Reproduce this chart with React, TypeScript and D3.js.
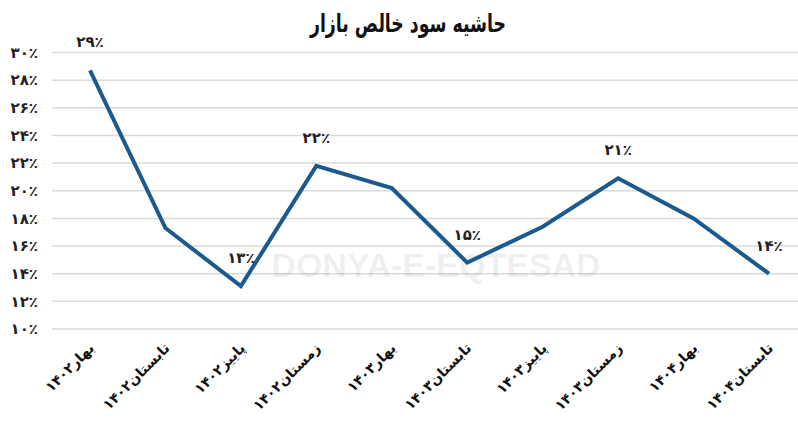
import React from "react";
import * as d3 from "d3";

const categories = [
  "بهار۱۴۰۲",
  "تابستان۱۴۰۲",
  "پاییز۱۴۰۲",
  "زمستان۱۴۰۲",
  "بهار۱۴۰۳",
  "تابستان۱۴۰۳",
  "پاییز۱۴۰۳",
  "زمستان۱۴۰۳",
  "بهار۱۴۰۴",
  "تابستان۱۴۰۴",
];
const values = [28.7, 17.3, 13.1, 21.8, 20.2, 14.8, 17.4, 20.9, 18.0, 14.0];
const valueLabels = ["۲۹٪", "", "۱۳٪", "۲۲٪", "", "۱۵٪", "", "۲۱٪", "", "۱۴٪"];
const yTicks = [10, 12, 14, 16, 18, 20, 22, 24, 26, 28, 30];
const title = "حاشیه سود خالص بازار";

const W = 798;
const H = 438;
const FONT = "'DejaVu Sans', 'Noto Sans', sans-serif";

const toFa = (s: string) => s.replace(/[0-9]/g, (d) => "۰۱۲۳۴۵۶۷۸۹"[+d]);

export default function App() {
  const x = d3.scalePoint<string>().domain(categories).range([90, 769]);
  const y = d3.scaleLinear().domain([10, 30]).range([329, 52.5]);
  const line = d3
    .line<number>()
    .x((_, i) => x(categories[i]) as number)
    .y((d) => y(d));

  return (
    <svg
      width={W}
      height={H}
      style={{ position: "absolute", left: 0, top: 0, background: "#fff" }}
      fontFamily={FONT}
    >
      <rect width={W} height={H} fill="#fff" />
      <text
        x={408}
        y={32}
        textAnchor="middle"
        fontSize={25}
        fontWeight="bold"
        fill="#111"
        textLength={196}
        lengthAdjust="spacingAndGlyphs"
      >
        {title}
      </text>

      {yTicks.map((t) => (
        <g key={t}>
          <line
            x1={52}
            x2={W}
            y1={y(t)}
            y2={y(t)}
            stroke="#dadada"
            strokeWidth={1.5}
          />
          <text
            x={38}
            y={y(t)}
            dy="0.35em"
            textAnchor="end"
            fontSize={15}
            fontWeight="bold"
            fill="#222"
          >
            {toFa(d3.format("d")(t)) + "٪"}
          </text>
        </g>
      ))}

      <text
        x={436}
        y={277}
        textAnchor="middle"
        fontSize={34}
        fontWeight="bold"
        fill="#000"
        fillOpacity={0.07}
        fontFamily="'Liberation Sans', Arial, sans-serif"
      >
        DONYA-E-EQTESAD
      </text>

      <path
        d={line(values) || ""}
        fill="none"
        stroke="#1b5a8e"
        strokeWidth={4}
        strokeLinejoin="miter"
      />

      {values.map((v, i) =>
        valueLabels[i] ? (
          <text
            key={i}
            x={x(categories[i]) as number}
            y={y(v) - 23}
            textAnchor="middle"
            fontSize={15}
            fontWeight="bold"
            fill="#222"
          >
            {valueLabels[i]}
          </text>
        ) : null
      )}

      {categories.map((c) => {
        const cx = (x(c) as number) + 5;
        const cy = 349;
        return (
          <text
            key={c}
            x={cx}
            y={cy}
            transform={`rotate(-45 ${cx} ${cy})`}
            textAnchor="end"
            fontSize={14}
            fontWeight="bold"
            fill="#111"
          >
            {c}
          </text>
        );
      })}
    </svg>
  );
}
